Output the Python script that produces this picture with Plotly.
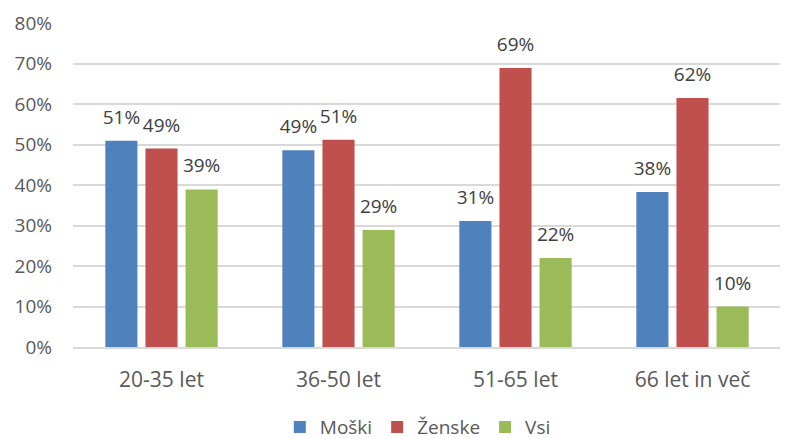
import plotly.graph_objects as go

categories = ["20-35 let", "36-50 let", "51-65 let", "66 let in več"]
moski = [0.509, 0.486, 0.311, 0.383]
zenske = [0.490, 0.512, 0.689, 0.615]
vsi = [0.389, 0.289, 0.220, 0.100]

series = [("Moški", moski, "#4F81BD"), ("Ženske", zenske, "#C0504D"), ("Vsi", vsi, "#9BBB59")]

fig = go.Figure()
for name, vals, color in series:
    fig.add_trace(go.Bar(
        x=categories, y=vals, name=name,
        marker=dict(color=color, line=dict(width=0)),
        hoverinfo="skip",
    ))
# value labels, grouped the same way as the bars and lifted a bit above them
for name, vals, color in series:
    fig.add_trace(go.Scatter(
        x=categories, y=vals, name=name, showlegend=False,
        mode="markers+text", marker=dict(size=18, opacity=0),
        texttemplate="%{y:.0%}", textposition="top center",
        textfont=dict(size=19, color="#404040"),
        cliponaxis=False, hoverinfo="skip",
    ))

# page body has an 8px margin, so the figure is a bit smaller than the window
fig.update_layout(
    width=780, height=431,
    margin=dict(l=65, r=7, t=15, b=92, autoexpand=False),
    barmode="group", bargap=0.32, bargroupgap=0.2,
    scattermode="group", scattergap=0.32,
    plot_bgcolor="white", paper_bgcolor="white",
    font=dict(family="Open Sans", size=19, color="#595959"),
    legend=dict(orientation="h", x=0.487, xanchor="center", y=-0.247, yanchor="middle",
                font=dict(size=19, color="#595959"), itemwidth=30, tracegroupgap=0),
)
fig.update_yaxes(range=[0, 0.8], dtick=0.1, tickformat=".0%", showgrid=True,
                 gridcolor="#D9D9D9", gridwidth=1.5, zeroline=False, ticklabelstandoff=20,
                 showline=False, automargin=False)
fig.update_xaxes(showline=True, linecolor="#D9D9D9", linewidth=1.5, ticklabelstandoff=13,
                 tickfont=dict(size=21), automargin=False)

fig.write_html("out.html")
